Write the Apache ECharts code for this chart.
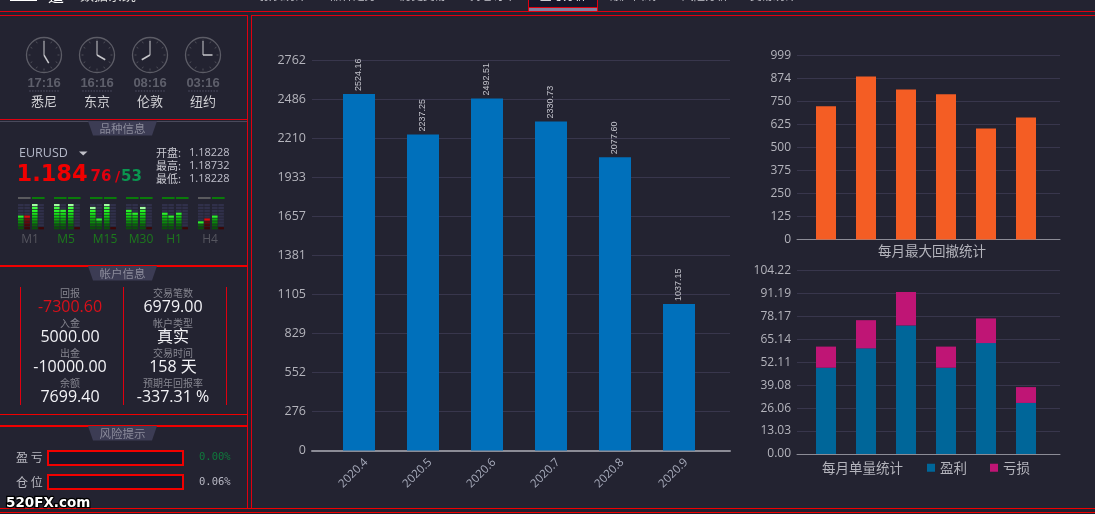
<!DOCTYPE html>
<html><head><meta charset="utf-8">
<style>html,body{margin:0;padding:0;background:#232331;overflow:hidden}#c{width:1095px;height:514px}</style>
<script src="https://cdn.jsdelivr.net/npm/echarts@6/dist/echarts.min.js"></script>
</head><body><div id="c"></div>
<script>
const months = ['2020.4','2020.5','2020.6','2020.7','2020.8','2020.9'];
const monthlyValues = [2524.16,2237.25,2492.51,2330.73,2077.60,1037.15];
const mainTickLabels = ['0','276','552','829','1105','1381','1657','1933','2210','2486','2762'];
const drawdownValues = [723,885,815,788,603,663];
const drawdownTickLabels = ['0','125','250','375','500','625','750','874','999'];
const profitCounts = [49,60,73,49,63,29];
const lossCounts = [12,16,19,12,14,9];
const countTickLabels = ['0.00','13.03','26.06','39.08','52.11','65.14','78.17','91.19','104.22'];
const cities = ['悉尼','东京','伦敦','纽约'];
const cityTimes = ['17:16','16:16','08:16','03:16'];
const clockHours = [5,4,8,3];
const navItems = ['报表统计','品种走势','历史交易','持仓订单','盈亏分析','账户曲线','风险分析','交易统计'];
const quoteRows = [['开盘:','1.18228'],['最高:','1.18732'],['最低:','1.18228']];
const periods = ['M1','M5','M15','M30','H1','H4'];
const periodActive = [false,true,true,true,true,false];
/* signal meters: levels out of 9 for columns A,B,C,D of each period */
const meterLevels = [[5,5,9,1],[9,7,9,1],[8,4,9,1],[7,6,8,1],[6,5,6,1],[3,4,5,1]];
/* true where the column is lit red */
const meterRed = [[0,1,0,1],[0,0,0,1],[0,0,0,1],[0,0,0,1],[0,0,0,1],[0,1,0,1]];
const accountLeft = [['回报','-7300.60'],['入金','5000.00'],['出金','-10000.00'],['余额','7699.40']];
const accountRight = [['交易笔数','6979.00'],['帐户类型','真实'],['交易时间','158 天'],['预期年回报率','-337.31 %']];
const riskRows = [['盈 亏','0.00%'],['仓 位','0.06%']];

const RED='#e0000f', CJK='"Noto Sans CJK SC","Noto Sans",sans-serif', LAT='"Open Sans","Noto Sans CJK SC",sans-serif';
const G=[];
const T=(x,y,s,size,fill,o={})=>G.push({type:'text',x,y,z:o.z||5,silent:true,style:{text:s,fill,font:`${o.w||'normal'} ${size}px ${o.f||CJK}`,align:o.a||'left',verticalAlign:'middle',stroke:o.st,lineWidth:o.lw||0}});
const R=(x,y,w,h,fill,o={})=>G.push({type:'rect',z:o.z||2,silent:true,shape:{x,y,width:w,height:h},style:{fill,stroke:o.st,lineWidth:o.lw||0}});
const H=(x1,x2,y,h=1,c=RED)=>R(x1,y,x2-x1,h,c);
const V=(x,y1,y2,w=1,c=RED)=>R(x,y1,w,y2-y1,c);

/* frames */
H(0,1095,11,1);H(0,248,15,1);H(251,1095,15,1);
V(247,15,508);V(251,15,508);
H(0,247,119,1);H(0,247,121,1,'#4a4a5c');
H(0,247,265,2,'#f00000');H(0,247,414,1,'#f00000');H(0,247,425,2,'#f00000');
H(0,1095,508,1,'#f00000');H(0,1095,512,1,'#f00000');

/* nav */
T(10,-3,'▟█▙',9,'#fff');T(48,-4,'适',16,'#fff');T(80,-5,'数据系统',14,'#ddd');T(146,-5,'Hicn',13,'#ddd',{f:LAT});
const navX=[260,330,400,470,540,610,682,750];
R(529,0,68,7,'#16162a');R(529,8,68,3,'#8080a0');V(528,0,11);V(597,0,11);H(528,598,7,1);
navItems.forEach((s,i)=>T(navX[i],-4,s,11.5,i==4?'#fff':'#c8c8d0'));

/* clocks */
const clockX=[44,97,150,203];
clockX.forEach((cx,i)=>{
  const cy=55;
  G.push({type:'circle',z:3,silent:true,shape:{cx,cy,r:17.5},style:{fill:'none',stroke:'#5c5c66',lineWidth:1.3}});
  for(let k=0;k<12;k++){const a=k*Math.PI/6;G.push({type:'line',z:3,silent:true,shape:{x1:cx+Math.sin(a)*13.5,y1:cy-Math.cos(a)*13.5,x2:cx+Math.sin(a)*15.5,y2:cy-Math.cos(a)*15.5},style:{stroke:'#4e4e58',lineWidth:1}});}
  const a=clockHours[i]*Math.PI/6;
  G.push({type:'line',z:4,silent:true,shape:{x1:cx,y1:cy,x2:cx+Math.sin(a)*9.5,y2:cy-Math.cos(a)*9.5},style:{stroke:'#c8c8cc',lineWidth:1.5}});
  G.push({type:'line',z:4,silent:true,shape:{x1:cx,y1:cy,x2:cx,y2:cy-14},style:{stroke:'#c8c8cc',lineWidth:1}});
  T(cx,83.5,cityTimes[i],13,'#5e5f6b',{a:'center',w:'bold',f:'"Liberation Sans",sans-serif'});
  for(let d=0;d<11;d++)G.push({type:'circle',z:3,silent:true,shape:{cx:cx-14+d*2.8,cy:91,r:.9},style:{fill:'#3e3e50'}});
  T(cx,101.5,cities[i],13,'#d0d0d4',{a:'center'});
});

/* section tags */
[[121,'品种信息'],[266,'帐户信息'],[426,'风险提示']].forEach(([y,s])=>{
  G.push({type:'polygon',z:4,silent:true,shape:{points:[[88,y],[157,y],[152,y+14.5],[93,y+14.5]]},style:{fill:'#3c3c54'}});
  T(122.5,y+7.5,s,11.5,'#8b8b9b',{a:'center'});
});

/* quote */
T(19,153.5,'EURUSD',12.5,'#b4b8c8',{f:LAT});
G.push({type:'polygon',z:4,silent:true,shape:{points:[[79,151.5],[87.5,151.5],[83.2,155.5]]},style:{fill:'#c0c0c8'}});
const DB='"DejaVu Sans",sans-serif';
T(16.5,175,'1.184',22.5,'#f00000',{w:'bold',f:DB});
T(90.5,177,'76',15,'#e0000f',{w:'bold',f:DB});
T(115,177,'/',14,'#e0000f',{w:'bold',f:DB});
T(121,177,'53',15,'#0a9650',{w:'bold',f:DB});
quoteRows.forEach((r,i)=>{T(156,152.5+i*13,r[0],11,'#c8c8d0');T(189,152.5+i*13,r[1],11,'#c0c0cc',{f:LAT});});
periods.forEach((p,i)=>T([30,66,105,141,174,210][i],240,p,12,periodActive[i]?'#1c7a1c':'#55555f',{a:'center',f:LAT}));

/* account */
V(20,287,405);V(123,287,405);V(226,287,405);
const acct=(rows,cx)=>rows.forEach((r,i)=>{
  T(cx,293+i*30,r[0],10,'#85858f',{a:'center'});
  T(cx,307.5+i*30,r[1],16,r[1]==='-7300.60'?'#d8101a':'#f2f2f6',{a:'center',f:LAT});
});
acct(accountLeft,70);acct(accountRight,173);

/* risk */
riskRows.forEach((r,i)=>{
  const y=451+i*24;
  T(16,y+6.5+i,r[0],12,'#b8b8c0');
  R(48,y,135,14,'#16162a',{st:'#f00000',lw:2});
  T(199,y+6.5+i,r[1],10.5,i?'#b8b8c4':'#0f7a3c',{f:'"DejaVu Sans Mono",monospace'});
});
T(6,503,'520FX.com',13.5,'#fff',{w:'bold',f:DB,st:'#000',lw:2.5,z:9});

/* ---- chart ---- */
const tickC='#b4b4bc', gridC='#38364c', axC='#8c8c96';
/* backdrop axes carry the tick labels, grid lines and baseline; bars sit on an inset grid sharing the same y scale */
const yAxisBack=(gi,labels,max,size)=>({type:'value',gridIndex:gi,min:0,max,interval:max/(labels.length-1),
  axisLine:{show:false},axisTick:{show:false},
  axisLabel:{fontFamily:LAT,fontSize:size,color:tickC,margin:6,padding:[2,0,0,0],formatter:(v,i)=>labels[i]},
  splitLine:{lineStyle:{color:gridC,width:1}}});
const yAxisBar=(gi,max)=>({type:'value',gridIndex:gi,min:0,max,show:false});
const xAxisBack=(gi,w)=>({type:'value',gridIndex:gi,min:0,max:1,
  axisLine:{onZero:false,lineStyle:{color:axC,width:w}},axisTick:{show:false},splitLine:{show:false},axisLabel:{show:false}});
const xAxisBar=(gi,labels)=>({type:'category',gridIndex:gi,data:months,axisLine:{show:false},axisTick:{show:false},
  axisLabel:labels?{rotate:45,interval:0,fontFamily:LAT,fontSize:11.5,color:'#a8acbc',margin:17,padding:[0,-10,0,0]}:{show:false}});

const meterCols=[0,6.3,14,20.3];
const meterData=[];
meterLevels.forEach((g,i)=>g.forEach((lv,c)=>meterData.push([i,c,lv,meterRed[i][c]])));
const greens=['#0a500a','#0a640a','#0a8a0a','#0aa80a','#10c810','#18e018','#28f828','#40ff40','#a0ffa0'];
const reds=['#3c0606','#4e0606','#640808','#7c0808','#980808','#b40a0a','#c80a0a','#d80a0a','#e00a0a'];
function renderMeter(params,api){
  const g=api.value(0),c=api.value(1),lv=api.value(2),red=api.value(3);
  const kids=[];
  const left=api.coord([g,0])[0]+meterCols[c];
  const y0=api.coord([g,0])[1];
  const y1=api.coord([g,1])[1];
  const step=y0-y1;
  for(let k=0;k<9;k++){
    const top=api.coord([g,k+1])[1];
    const lit=k<lv;
    let fill='#30304a';
    if(lit){fill=red?reds[k]:greens[k];
      if(!red&&k===lv-1&&lv>1)fill=k>=7?'#a0ffa0':'#2cf02c';
      if(red&&lv>1&&k===lv-1)fill='#e00a0a';}
    kids.push({type:'rect',shape:{x:left,y:top,width:5.6,height:step-.7},style:{fill}});
  }
  if(c===0||c===2){
    const on=(c===0)?periodActive[g]:true;
    kids.push({type:'rect',shape:{x:left,y:api.coord([g,9])[1]-7,width:12.6,height:2},style:{fill:on?'#0a7a0a':'#5a5a5e'}});
  }
  return {type:'group',children:kids};
}

const opt={
  animation:false,backgroundColor:'#232331',
  textStyle:{fontFamily:CJK},
  graphic:{elements:G},
  title:[
    {text:'每月最大回撤统计',left:932,top:244,padding:0,textAlign:'center',textStyle:{fontSize:13.5,fontWeight:'normal',color:'#b4b4bc',fontFamily:CJK}},
    {text:'每月单量统计',left:822,top:461,padding:0,textStyle:{fontSize:13.5,fontWeight:'normal',color:'#b4b4bc',fontFamily:CJK}}
  ],
  legend:{left:927,top:461,padding:0,itemWidth:8,itemHeight:8,itemGap:23,icon:'rect',data:['盈利','亏损'],
    textStyle:{fontSize:13.5,color:'#b4b4bc',fontFamily:CJK}},
  grid:[
    {left:312,top:60.5,width:418,height:390},
    {left:797,top:55.5,width:263,height:184},
    {left:797,top:270.5,width:263,height:183.5},
    {left:18,top:204,width:216,height:26},
    {left:327,top:60.5,width:384,height:390},
    {left:806,top:55.5,width:240,height:184},
    {left:806,top:270.5,width:240,height:183.5}
  ],
  xAxis:[
    xAxisBack(0,2),xAxisBack(1,1),xAxisBack(2,1),
    {type:'value',gridIndex:3,min:0,max:6,show:false},
    xAxisBar(4,true),xAxisBar(5,false),xAxisBar(6,false)
  ],
  yAxis:[
    yAxisBack(0,mainTickLabels,2762,12.5),
    yAxisBack(1,drawdownTickLabels,999,12),
    yAxisBack(2,countTickLabels,104.22,12),
    {type:'value',gridIndex:3,min:0,max:9,show:false},
    yAxisBar(4,2762),yAxisBar(5,999),yAxisBar(6,104.22)
  ],
  series:[
    {type:'bar',name:'月度',xAxisIndex:4,yAxisIndex:4,barWidth:32,data:monthlyValues,itemStyle:{color:'#0070bb'},
     label:{show:true,position:'top',rotate:90,distance:3,align:'left',verticalAlign:'middle',fontSize:9,fontFamily:'"Liberation Sans",sans-serif',color:'#c4c4cc',formatter:p=>p.value.toFixed(2)}},
    {type:'bar',name:'最大回撤',xAxisIndex:5,yAxisIndex:5,barWidth:20,data:drawdownValues,itemStyle:{color:'#f45d24'}},
    {type:'bar',name:'盈利',stack:'a',xAxisIndex:6,yAxisIndex:6,barWidth:20,data:profitCounts,itemStyle:{color:'#006699'}},
    {type:'bar',name:'亏损',stack:'a',xAxisIndex:6,yAxisIndex:6,barWidth:20,data:lossCounts,itemStyle:{color:'#bf1575'}},
    {type:'custom',name:'信号',xAxisIndex:3,yAxisIndex:3,data:meterData,renderItem:renderMeter,silent:true,clip:false,z:6}
  ]
};
echarts.init(document.getElementById('c')).setOption(opt);
</script></body></html>
